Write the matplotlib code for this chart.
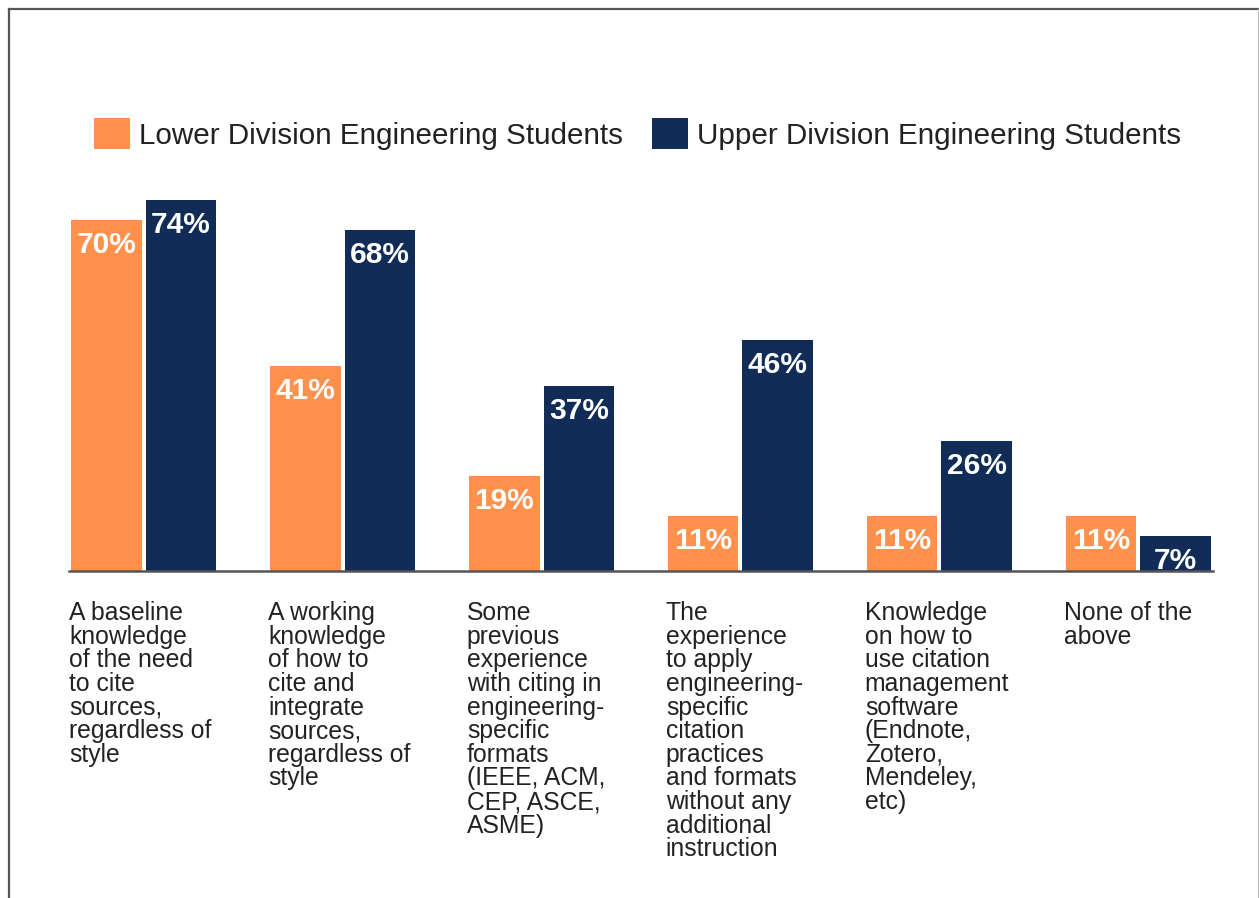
import matplotlib.pyplot as plt
import numpy as np
from matplotlib.lines import Line2D
from matplotlib.patches import Patch

plt.rcParams['font.family'] = ['Liberation Sans', 'DejaVu Sans']

categories = [
    "A baseline\nknowledge\nof the need\nto cite\nsources,\nregardless of\nstyle",
    "A working\nknowledge\nof how to\ncite and\nintegrate\nsources,\nregardless of\nstyle",
    "Some\nprevious\nexperience\nwith citing in\nengineering-\nspecific\nformats\n(IEEE, ACM,\nCEP, ASCE,\nASME)",
    "The\nexperience\nto apply\nengineering-\nspecific\ncitation\npractices\nand formats\nwithout any\nadditional\ninstruction",
    "Knowledge\non how to\nuse citation\nmanagement\nsoftware\n(Endnote,\nZotero,\nMendeley,\netc)",
    "None of the\nabove",
]
lower_division = [70, 41, 19, 11, 11, 11]
upper_division = [74, 68, 37, 46, 26, 7]
series_names = ["Lower Division Engineering Students",
                "Upper Division Engineering Students"]

ORANGE = "#FF914D"
NAVY = "#102C57"
TEXT = "#222222"

W, H = 1259, 898
fig = plt.figure(figsize=(W / 100, H / 100), dpi=100)
ax = fig.add_axes([69 / W, 1 - 571 / H, (1213 - 69) / W, (571 - 150) / H])

x = np.arange(len(categories))
width = 0.355
off = (width + 0.02) / 2
b1 = ax.bar(x - off, lower_division, width, color=ORANGE)
b2 = ax.bar(x + off, upper_division, width, color=NAVY)

for bars, vals in ((b1, lower_division), (b2, upper_division)):
    for rect, v in zip(bars, vals):
        ax.annotate(f"{v}%", (rect.get_x() + rect.get_width() / 2, v),
                    xytext=(0, -18), textcoords="offset points",
                    ha="center", va="center", color="white",
                    fontsize=21.5, fontweight="bold")

ax.set_xlim(-0.375, len(categories) - 0.625)
ax.set_ylim(0, 84)
ax.set_yticks([])
ax.set_xticks([])
for s in ("top", "right", "left"):
    ax.spines[s].set_visible(False)
ax.spines["bottom"].set_color("#555555")
ax.spines["bottom"].set_linewidth(1.8)

# category labels, left aligned under each group
for i, label in enumerate(categories):
    ax.text(i - 0.375, -6.0, label, ha="left", va="top", fontsize=17.8,
            color=TEXT, linespacing=0.98, transform=ax.transData, clip_on=False)

handles = [Patch(facecolor=ORANGE), Patch(facecolor=NAVY)]
fig.legend(handles, series_names, loc="center", ncol=2,
           bbox_to_anchor=(637.5 / W, 1 - 134 / H), frameon=False,
           fontsize=21.3, handlelength=1.22, handleheight=1.22,
           handletextpad=0.3, columnspacing=1.0, borderpad=0,
           labelcolor=TEXT)

# outer frame (top, left dark; right light)
fig.add_artist(Line2D([9 / W, 1258 / W], [1 - 9 / H, 1 - 9 / H],
                      transform=fig.transFigure, color="#555555", lw=1.6))
fig.add_artist(Line2D([9 / W, 9 / W], [0, 1 - 9 / H],
                      transform=fig.transFigure, color="#555555", lw=1.6))
fig.add_artist(Line2D([1258 / W, 1258 / W], [0, 1 - 9 / H],
                      transform=fig.transFigure, color="#BBBBBB", lw=0.8))

fig.savefig("out.png", dpi=100)
